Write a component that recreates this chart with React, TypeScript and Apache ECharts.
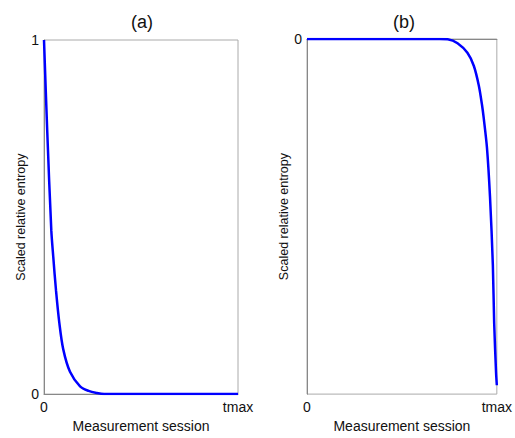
import React, { useEffect, useRef } from "react";
import * as echarts from "echarts";

// Panel (a): scaled relative entropy decreasing from 1 to 0
const xA = [0, 1.7, 3.76, 4.8, 6.2, 7.9, 9.9, 13.4, 18.6, 23, 27.2, 31, 40, 100];
const yA = [1, 0.738, 0.463, 0.386, 0.292, 0.201, 0.127, 0.063, 0.022, 0.009, 0.003, 0, 0, 0];

// Panel (b): scaled relative entropy staying at 0 then dropping near tmax
const xB = [0, 40, 70, 74.1, 79.3, 84.5, 87.9, 90.5, 92.2, 93.1, 94.8, 96.4, 97.9, 98.6, 99.6, 100];
const yB = [0, 0, 0, -0.001, -0.012, -0.039, -0.076, -0.131, -0.186, -0.223, -0.306, -0.444, -0.636, -0.8, -0.94, -0.975];

const xTickLabels: Record<number, string> = { 0: "0", 100: "tmax" };
const panelTitles = ["(a)", "(b)"];
const xName = "Measurement session";
const yName = "Scaled relative entropy";

const FONT = "Liberation Sans, Arial, sans-serif";

export default function App() {
  const ref = useRef<HTMLDivElement>(null);
  useEffect(() => {
    if (!ref.current) return;
    const chart = echarts.init(ref.current, undefined, { renderer: "svg" });
    const xAxisCommon = (gridIndex: number) => ({
      type: "value" as const,
      gridIndex,
      min: 0,
      max: 100,
      interval: 100,
      name: xName,
      nameLocation: "middle" as const,
      nameGap: 22,
      nameTextStyle: { fontFamily: FONT, fontSize: 14, color: "#111" },
      axisLine: { show: true, lineStyle: { color: "#888", width: 1 } },
      axisTick: { show: false },
      splitLine: { show: false },
      axisLabel: {
        fontFamily: FONT,
        fontSize: 14,
        color: "#111",
        margin: 6,
        formatter: (v: number) => xTickLabels[v] ?? "",
      },
    });
    const yAxisCommon = (gridIndex: number, min: number, max: number, fmt: (v: number) => string) => ({
      type: "value" as const,
      gridIndex,
      min,
      max,
      interval: 1,
      name: yName,
      nameLocation: "middle" as const,
      nameGap: 16,
      nameTextStyle: { fontFamily: FONT, fontSize: 12.5, color: "#111" },
      axisLine: { show: true, lineStyle: { color: "#888", width: 1 } },
      axisTick: { show: false },
      splitLine: { show: false },
      axisLabel: { fontFamily: FONT, fontSize: 14, color: "#111", margin: 5, formatter: fmt },
    });
    chart.setOption({
      animation: false,
      backgroundColor: "#fff",
      grid: [
        { left: 44, top: 40, width: 194, height: 363, show: true, borderColor: "#aaa", borderWidth: 1 },
        { left: 307, top: 39, width: 193, height: 363, show: true, borderColor: "#aaa", borderWidth: 1 },
      ],
      xAxis: [xAxisCommon(0), xAxisCommon(1)],
      yAxis: [
        yAxisCommon(0, 0, 1, (v: number) => (v === 1 ? "1" : v === 0 ? "0" : "")),
        yAxisCommon(1, -1, 0, (v: number) => (v === 0 ? "0" : "")),
      ],
      graphic: [
        {
          type: "text",
          x: 142,
          y: 22,
          style: { text: panelTitles[0], font: `18px ${FONT}`, fill: "#111", align: "center", verticalAlign: "middle" },
        },
        {
          type: "text",
          x: 404,
          y: 22,
          style: { text: panelTitles[1], font: `18px ${FONT}`, fill: "#111", align: "center", verticalAlign: "middle" },
        },
      ],
      series: [
        {
          type: "line",
          xAxisIndex: 0,
          yAxisIndex: 0,
          data: xA.map((x, i) => [x, yA[i]]),
          showSymbol: false,
          smooth: 0.3,
          lineStyle: { color: "#0000ff", width: 2.5 },
        },
        {
          type: "line",
          xAxisIndex: 1,
          yAxisIndex: 1,
          data: xB.map((x, i) => [x, yB[i]]),
          showSymbol: false,
          smooth: 0.3,
          lineStyle: { color: "#0000ff", width: 2.5 },
        },
      ],
    });
    return () => chart.dispose();
  }, []);
  return (
    <div
      ref={ref}
      style={{ position: "fixed", left: 0, top: 0, width: 515, height: 438, background: "#fff" }}
    />
  );
}
